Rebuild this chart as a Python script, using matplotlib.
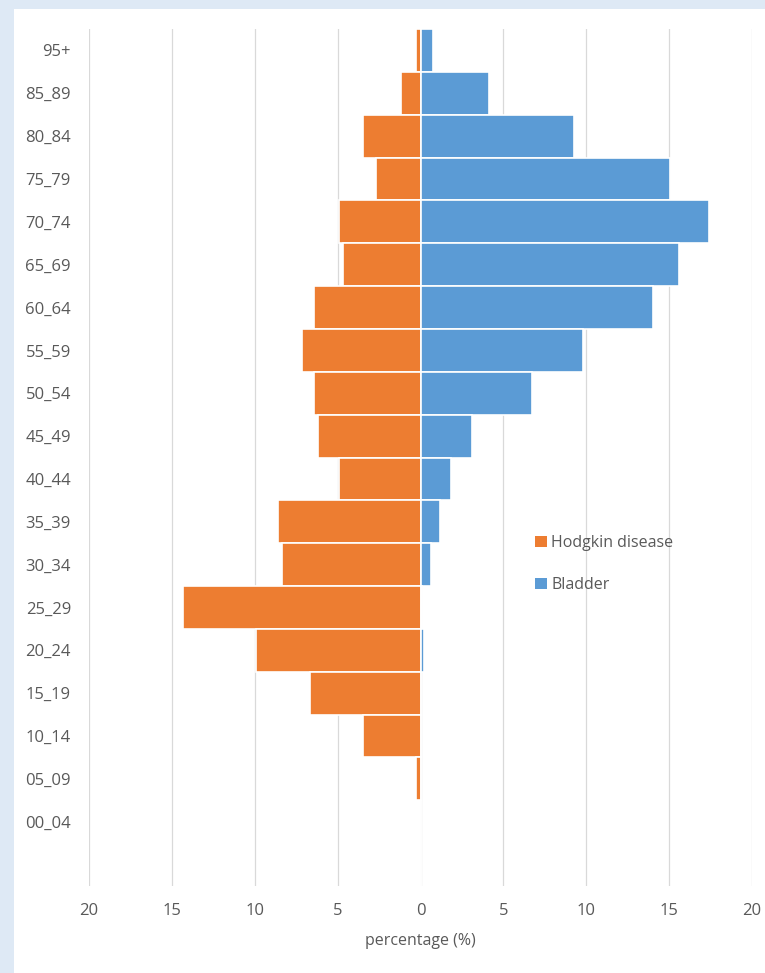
import matplotlib
matplotlib.use("Agg")
import matplotlib.pyplot as plt
from matplotlib.patches import Rectangle, Patch
import numpy as np

plt.rcParams['font.family'] = ['Open Sans', 'DejaVu Sans']

categories = ['95+', '85_89', '80_84', '75_79', '70_74', '65_69', '60_64', '55_59',
              '50_54', '45_49', '40_44', '35_39', '30_34', '25_29', '20_24', '15_19',
              '10_14', '05_09', '00_04', '']
hodgkin = [0.26, 1.2, 3.45, 2.7, 4.9, 4.65, 6.4, 7.13, 6.4, 6.16, 4.9, 8.6, 8.37,
           14.3, 9.9, 6.64, 3.45, 0.26, 0.0, 0.0]
bladder = [0.76, 4.16, 9.28, 15.06, 17.4, 15.6, 14.04, 9.82, 6.75, 3.11, 1.83, 1.16,
           0.62, 0.1, 0.24, 0.0, 0.0, 0.0, 0.0, 0.0]
xticks = [-20, -15, -10, -5, 0, 5, 10, 15, 20]

W, H = 765, 973
fig = plt.figure(figsize=(W/100, H/100), dpi=100)
fig.patch.set_facecolor('#dee9f5')
fig.patches.append(Rectangle((14/W, 0), 1 - 14/W, 1 - 9/H, transform=fig.transFigure,
                             facecolor='white', edgecolor='none', zorder=-10))

ax = fig.add_axes([89/W, 1 - 886/H, 663/W, 857/H])
ax.set_zorder(5)
ax.set_facecolor('none')
y = np.arange(len(categories))
ax.barh(y, -np.array(hodgkin), height=1.0, color='#ED7D31', edgecolor='white',
        linewidth=1.2, label='Hodgkin disease', zorder=3)
ax.barh(y, bladder, height=1.0, color='#5B9BD5', edgecolor='white',
        linewidth=1.2, label='Bladder', zorder=3)

ax.set_xlim(-20, 20)
ax.set_ylim(len(categories) - 0.5, -0.5)
ax.set_yticks(y)
ax.set_yticklabels(categories)
ax.set_xticks(xticks)
ax.set_xticklabels([str(abs(t)) for t in xticks])
for s in ax.spines.values():
    s.set_visible(False)
ax.xaxis.grid(True, color='#d9d9d9', linewidth=0.9, zorder=0)
ax.set_axisbelow(True)
ax.tick_params(axis='y', length=0, pad=13, labelsize=12, labelcolor='#595959')
ax.tick_params(axis='x', length=0, pad=12, labelsize=12, labelcolor='#595959')
ax.set_xlabel('percentage (%)', fontsize=11.5, color='#595959', labelpad=10)

handles = [Patch(facecolor='#ED7D31', label='Hodgkin disease'),
           Patch(facecolor='#5B9BD5', label='Bladder')]
leg = fig.legend(handles=handles, loc='upper left', bbox_to_anchor=(521/W, 1 - 521/H),
                 frameon=False, handlelength=0.7, handleheight=0.7, handletextpad=0.3,
                 labelspacing=1.6, fontsize=11.5, labelcolor='#595959')
leg.set_zorder(10)

fig.savefig('out.png', dpi=100)
